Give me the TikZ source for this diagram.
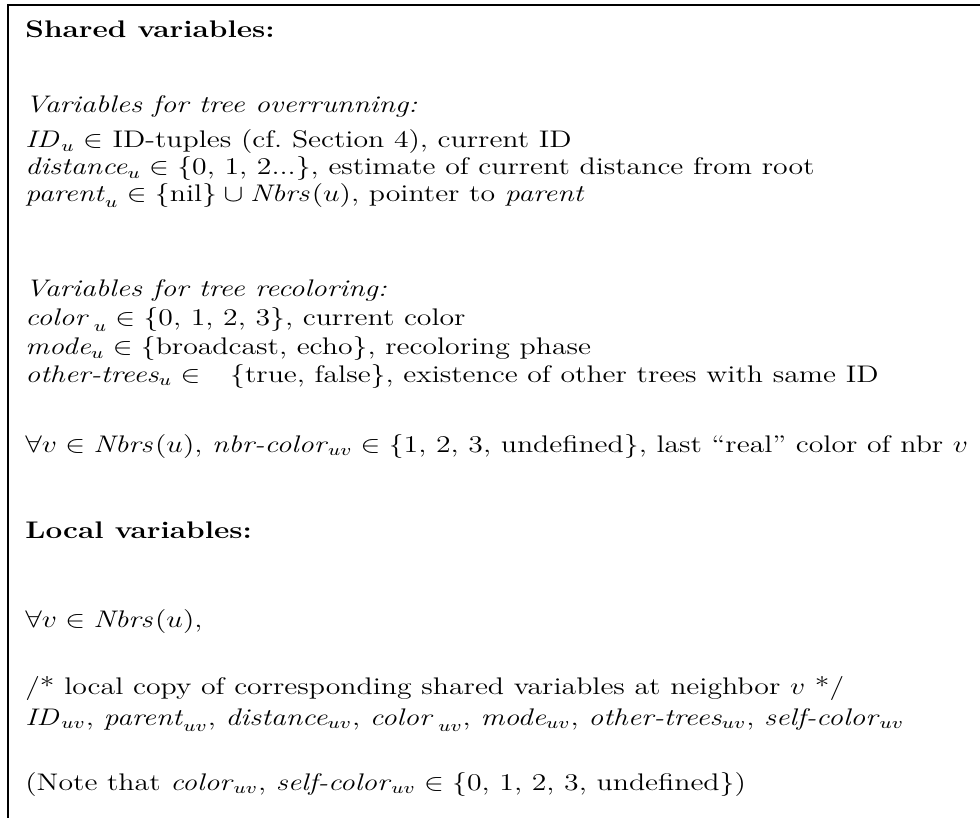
\documentclass[tikz,border=0pt]{standalone}
\usepackage{amssymb}
\usepackage{graphicx}
\newcommand{\vname}[1]{\textit{#1}}
% subscript set a little lower, as after "parent" and "color" (math mode)
\newcommand{\lowsub}[1]{_{\lower1.2pt\hbox{$\scriptstyle #1$}}}
% the printed type is set wide: stretch each line horizontally
\newcommand{\wide}[1]{\scalebox{1.24}[1]{#1}}
\begin{document}
\begin{tikzpicture}[x=0.5pt,y=-0.5pt,
  line/.style={anchor=base west,inner sep=0pt,font=\fontsize{12}{14}\selectfont},
  frame/.style={line width=1pt,black}]
\useasboundingbox (0,0) rectangle (980,818);
% frame: only the top and left edges lie inside the picture
\coordinate (tl) at (7.5,5.5);
\coordinate (tr) at (980,5.5);
\coordinate (bl) at (7.5,818);
\draw[frame] (tr) -- (tl) -- (bl);

\node[line] (l1)  at (25,38)  {\wide{\textbf{Shared variables:}}};
\node[line] (l2)  at (25,113) {\wide{\textit{Variables for tree overrunning:}}};
\node[line] (l3)  at (25,148) {\wide{$\mathit{ID}_u \in$ ID-tuples (cf.\ Section 4), current ID}};
\node[line] (l4)  at (25,175) {\wide{\vname{distance}$_u \in \{$0, 1, 2...$\}$, estimate of current distance from root}};
\node[line] (l5)  at (25,202) {\wide{\vname{parent}$\lowsub{u} \in \{$nil$\} \cup \mathit{Nbrs}(u)$, pointer to \vname{parent}}};
\node[line] (l6)  at (25,297) {\wide{\textit{Variables for tree recoloring:}}};
\node[line] (l7)  at (25,326) {\wide{\vname{color}$\,\lowsub{u} \in \{$0, 1, 2, 3$\}$, current color}};
\node[line] (l8)  at (25,355) {\wide{\vname{mode}$_u \in \{$broadcast, echo$\}$, recoloring phase}};
\node[line] (l9)  at (25,382) {\wide{\vname{other-trees}$_u \in$\quad$\{$true, false$\}$, existence of other trees with same ID}};
\node[line] (l10) at (25,452) {\wide{$\forall v \in \mathit{Nbrs}(u)$, \vname{nbr-color}$_{uv} \in \{$1, 2, 3, undefined$\}$, last ``real'' color of nbr $v$}};
\node[line] (l11) at (25,538) {\wide{\textbf{Local variables:}}};
\node[line] (l12) at (25,627) {\wide{$\forall v \in \mathit{Nbrs}(u)$,}};
\node[line] (l13) at (25,694) {\wide{/* local copy of corresponding shared variables at neighbor $v$ */}};
\node[line] (l14) at (25,725) {\wide{$\mathit{ID}_{uv}$, \vname{parent}$\lowsub{uv}$, \vname{distance}$_{uv}$, \vname{color}$\,\lowsub{uv}$, \vname{mode}$_{uv}$, \vname{other-trees}$_{uv}$, \vname{self-color}$_{uv}$}};
\node[line] (l15) at (25,790) {\wide{(Note that \vname{color}$_{uv}$, \vname{self-color}$_{uv} \in \{$0, 1, 2, 3, undefined$\}$)}};
\end{tikzpicture}
\end{document}
